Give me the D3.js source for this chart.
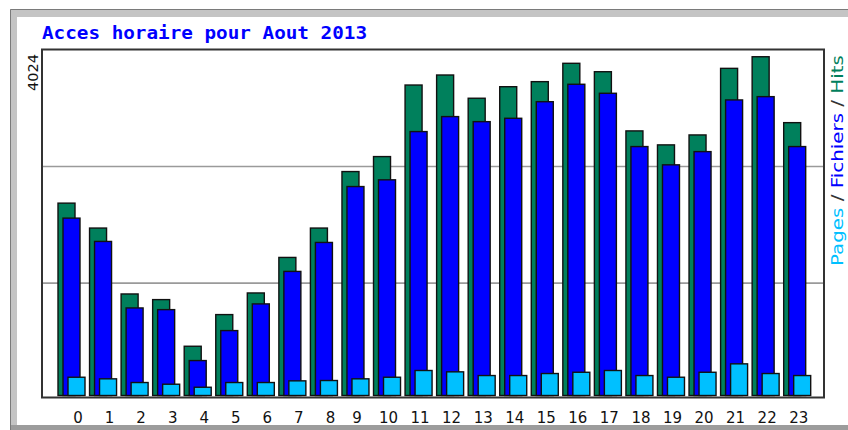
<!DOCTYPE html>
<html>
<head>
<meta charset="utf-8">
<script src="https://cdnjs.cloudflare.com/ajax/libs/d3/7.8.5/d3.min.js"></script>
<style>
  body { margin: 0; background: #fff; }
  svg { display: block; }
</style>
</head>
<body>
<script>
// Acces horaire - Aout 2013
var hours = d3.range(0, 24);
var hourLabels = ["0","1","2","3","4","5","6","7","8","9","10","11",
                  "12","13","14","15","16","17","18","19","20","21","22","23"];
var hits = [2285, 1989, 1206, 1139, 585, 961, 1218, 1640, 1989, 2660, 2838, 3688,
            3807, 3531, 3668, 3728, 3946, 3846, 3143, 2977, 3095, 3886, 4024, 3241];
var fichiers = [2107, 1830, 1040, 1020, 415, 771, 1088, 1474, 1818, 2482, 2562, 3135,
                3313, 3253, 3293, 3490, 3697, 3590, 2957, 2740, 2897, 3511, 3550, 2957];
var pages = [217, 198, 154, 134, 98, 154, 154, 174, 178, 198, 217, 297,
             281, 237, 237, 261, 276, 297, 237, 217, 276, 376, 261, 237];
var maxLabel = "4024";
var gridValues = [1335, 2720];

var w = 848, h = 430;
var plot = { left: 42, top: 49.5, right: 824, bottom: 397.5 };
var barBase = 395.5;

var svg = d3.select("body").append("svg")
  .attr("width", w)
  .attr("height", h);

drawFrame(svg);

var x = d3.scaleBand()
  .domain(hours)
  .range([58, 810.7])
  .paddingInner(0.144)
  .paddingOuter(0);

var y = d3.scaleLinear()
  .domain([0, 4110])
  .range([barBase, plot.top]);

// grid lines
svg.selectAll("line.grid")
  .data(gridValues)
  .enter()
  .append("line")
  .attr("x1", plot.left)
  .attr("x2", plot.right)
  .attr("y1", function(d) { return y(d); })
  .attr("y2", function(d) { return y(d); })
  .attr("stroke", "#9a9a9a")
  .attr("stroke-width", 1.6);

drawBars(hits, 0, "#00805c");
drawBars(fichiers, 5, "#0000ff");
drawBars(pages, 10, "#00c0ff");

// plot frame
svg.append("rect")
  .attr("x", plot.left)
  .attr("y", plot.top)
  .attr("width", plot.right - plot.left)
  .attr("height", plot.bottom - plot.top)
  .attr("fill", "none")
  .attr("stroke", "#333")
  .attr("stroke-width", 2);

drawLabels();

function drawFrame(svg) {
  svg.append("rect")
    .attr("x", 10).attr("y", 9)
    .attr("width", w).attr("height", 421)
    .attr("fill", "#c4c4c4");
  svg.append("rect")
    .attr("x", 10).attr("y", 425)
    .attr("width", w).attr("height", 6)
    .attr("fill", "#9c9c9c");
  svg.append("rect")
    .attr("x", 17).attr("y", 17)
    .attr("width", w).attr("height", 408)
    .attr("fill", "#fff");
  svg.append("path")
    .attr("d", "M10.5," + h + "V9.5H" + w)
    .attr("fill", "none")
    .attr("stroke", "#7a7a7a");
}

function drawBars(data, offset, color) {
  svg.append("g").selectAll("rect")
    .data(data)
    .enter()
    .append("rect")
    .attr("x", function(d, i) { return x(hours[i]) + offset; })
    .attr("y", function(d) { return y(d); })
    .attr("width", 17)
    .attr("height", function(d) { return barBase - y(d); })
    .attr("fill", color)
    .attr("stroke", "#111")
    .attr("stroke-width", 1.4);
}

function drawLabels() {
  svg.append("text")
    .text("Acces horaire pour Aout 2013")
    .attr("x", 42)
    .attr("y", 39)
    .attr("font-family", "DejaVu Sans Mono")
    .attr("font-weight", "bold")
    .attr("font-size", "18px")
    .attr("textLength", 325)
    .attr("lengthAdjust", "spacingAndGlyphs")
    .attr("fill", "#0000ff");

  svg.append("text")
    .text(maxLabel)
    .attr("transform", "translate(38,54) rotate(-90)")
    .attr("text-anchor", "end")
    .attr("font-family", "DejaVu Sans")
    .attr("font-size", "14.5px")
    .attr("fill", "#111");

  svg.selectAll("text.hour")
    .data(hourLabels)
    .enter()
    .append("text")
    .text(function(d) { return d; })
    .attr("x", function(d, i) {
      return x(hours[i]) + x.bandwidth() / 2 + (i < 9 ? 6.5 : 1.5);
    })
    .attr("y", 423)
    .attr("text-anchor", "middle")
    .attr("font-family", "DejaVu Sans")
    .attr("font-size", "15px")
    .attr("fill", "#111");

  var legend = svg.append("text")
    .attr("transform", "translate(843,266) rotate(-90)")
    .attr("font-family", "DejaVu Sans")
    .attr("font-size", "15px")
    .attr("textLength", 211)
    .attr("lengthAdjust", "spacingAndGlyphs");
  legend.append("tspan").text("Pages").attr("fill", "#00c0ff");
  legend.append("tspan").text(" / ").attr("fill", "#333");
  legend.append("tspan").text("Fichiers").attr("fill", "#0000ff");
  legend.append("tspan").text(" / ").attr("fill", "#333");
  legend.append("tspan").text("Hits").attr("fill", "#00805c");
}
</script>
</body>
</html>
